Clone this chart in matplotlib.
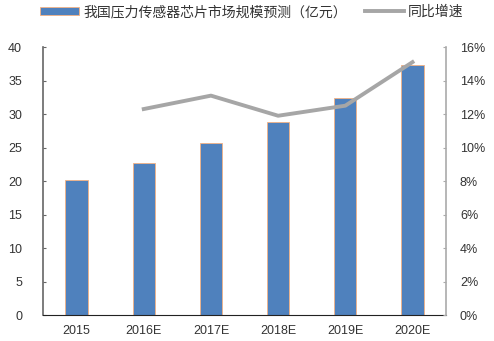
import matplotlib
matplotlib.use("Agg")
import matplotlib.pyplot as plt
from matplotlib.ticker import FuncFormatter

plt.rcParams['font.family'] = ['Noto Sans CJK SC', 'DejaVu Sans']

# data
years = ['2015', '2016E', '2017E', '2018E', '2019E', '2020E']
market_size = [20.2, 22.7, 25.7, 28.8, 32.4, 37.3]
growth_years = ['2016E', '2017E', '2018E', '2019E', '2020E']
growth_rate = [12.3, 13.1, 11.9, 12.5, 15.1]

bar_label = '我国压力传感器芯片市场规模预测（亿元）'
line_label = '同比增速'

fig = plt.figure(figsize=(4.94, 3.41), dpi=100)
ax = fig.add_axes([0.087, 0.076, 0.816, 0.786])
ax2 = ax.twinx()

x = list(range(len(years)))
bars = ax.bar(x, market_size, width=0.33, color='#4F81BD',
              edgecolor='#F4B183', linewidth=0.6, label=bar_label, zorder=2)
gx = [years.index(y) for y in growth_years]
line, = ax2.plot(gx, growth_rate, color='#A6A6A6', linewidth=2.8,
                 label=line_label, zorder=3)

ax.set_xlim(-0.5, len(years) - 0.5)
ax.set_ylim(0, 40)
ax.set_yticks(range(0, 41, 5))
ax2.set_ylim(0, 16)
ax2.set_yticks(range(0, 17, 2))
ax2.yaxis.set_major_formatter(FuncFormatter(lambda v, p: '%d%%' % v))

ax.set_xticks(x)
ax.set_xticklabels(years)

tick_font = 'Liberation Sans'
for a in (ax, ax2):
    a.spines['top'].set_visible(False)
    a.tick_params(labelsize=9, colors='#333333')
    for t in a.get_xticklabels() + a.get_yticklabels():
        t.set_family(tick_font)
ax.spines['left'].set_color('#666666')
ax.spines['left'].set_linewidth(1.2)
ax.spines['right'].set_visible(False)
ax2.spines['left'].set_visible(False)
ax2.spines['bottom'].set_visible(False)
ax2.spines['right'].set_color('#AAAAAA')
ax2.spines['right'].set_linewidth(1.2)
ax.spines['bottom'].set_color('#222222')
ax.tick_params(axis='y', direction='in', length=2, color='#666666', pad=15)
ax2.tick_params(axis='y', direction='in', length=2, color='#AAAAAA', pad=10)
ax.tick_params(axis='x', length=0, pad=7)

fig.legend([bars, line], [bar_label, line_label], loc='center left',
           bbox_to_anchor=(0.081, 1 - 12 / 341), ncol=2, frameon=False,
           fontsize=10, handlelength=2.8, handleheight=0.55,
           columnspacing=1.3, handletextpad=0.3, borderpad=0,
           borderaxespad=0)
for t in fig.legends[0].get_texts():
    t.set_color('#333333')

fig.savefig('out.png', dpi=100)
